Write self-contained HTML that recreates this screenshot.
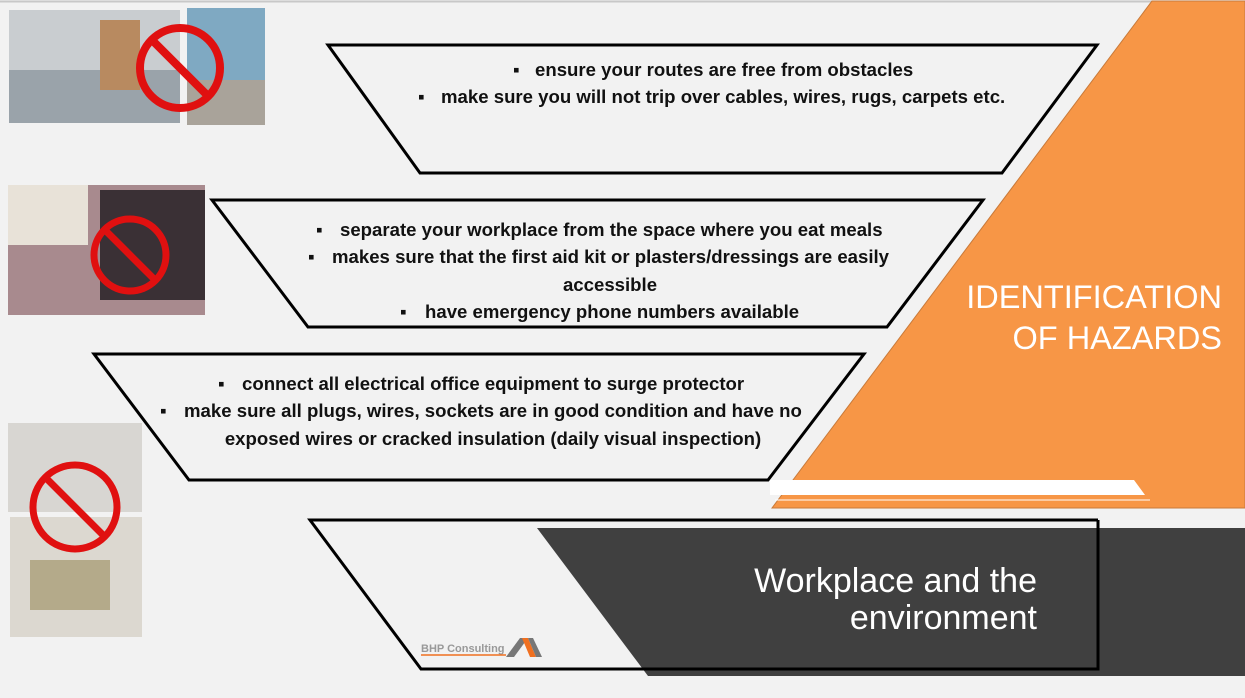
<!DOCTYPE html>
<html><head><meta charset="utf-8"><style>
html,body{margin:0;padding:0}
body{width:1245px;height:698px;overflow:hidden;background:#f2f2f2;font-family:"Liberation Sans",Arial,sans-serif}
svg{display:block}
.b{font-weight:bold;font-size:18.6px;fill:#111}
.h{font-size:32.5px;fill:#fff}
</style></head><body>
<svg width="1245" height="698" viewBox="0 0 1245 698" xmlns="http://www.w3.org/2000/svg">
<rect x="0" y="0" width="1245" height="698" fill="#f2f2f2"/>
<line x1="0" y1="1.5" x2="1245" y2="1.5" stroke="#c8c8c8" stroke-width="2"/>
<polygon points="1152,1 1245,1 1245,508 772,508" fill="#f79646" stroke="#c87a3a" stroke-width="1"/>
<polygon points="770,480 1134,480 1145,495 770,495" fill="#fff"/>
<line x1="775" y1="500" x2="1150" y2="500" stroke="#fff" stroke-width="1"/>
<text class="h" x="1222" y="308" text-anchor="end">IDENTIFICATION</text>
<text class="h" x="1222" y="349" text-anchor="end">OF HAZARDS</text>
<polygon points="537,528 1245,528 1245,676 648,676" fill="#404040"/>
<text x="1037" y="592" text-anchor="end" style="font-size:34px;fill:#fff">Workplace and the</text>
<text x="1037" y="629" text-anchor="end" style="font-size:34px;fill:#fff">environment</text>
<polygon points="328,45 1097,45 1002,173 420,173" fill="#f2f2f2" stroke="#000" stroke-width="3"/>
<polygon points="212,200 983,200 887,327 308,327" fill="#f2f2f2" stroke="#000" stroke-width="3"/>
<polygon points="94,354 864,354 768,480 189,480" fill="#f2f2f2" stroke="#000" stroke-width="3"/>
<polyline points="1098,520 310,520 421,669 1098,669 1098,520" fill="none" stroke="#000" stroke-width="3"/>
<text class="b" x="513" y="76">▪</text><text class="b" x="535" y="76">ensure your routes are free from obstacles</text>
<text class="b" x="418" y="103">▪</text><text class="b" x="441" y="103">make sure you will not trip over cables, wires, rugs, carpets etc.</text>
<text class="b" x="316" y="236">▪</text><text class="b" x="340" y="236">separate your workplace from the space where you eat meals</text>
<text class="b" x="308" y="263">▪</text><text class="b" x="332" y="263">makes sure that the first aid kit or plasters/dressings are easily</text>
<text class="b" x="610" y="291" text-anchor="middle">accessible</text>
<text class="b" x="400" y="318">▪</text><text class="b" x="425" y="318">have emergency phone numbers available</text>
<text class="b" x="218" y="390">▪</text><text class="b" x="242" y="390">connect all electrical office equipment to surge protector</text>
<text class="b" x="160" y="417">▪</text><text class="b" x="184" y="417">make sure all plugs, wires, sockets are in good condition and have no</text>
<text class="b" x="493" y="445" text-anchor="middle">exposed wires or cracked insulation (daily visual inspection)</text>
<text x="421" y="652" style="font-size:11px;font-weight:bold;fill:#999">BHP Consulting</text>
<line x1="421" y1="655" x2="506" y2="655" stroke="#f07020" stroke-width="1.5"/>
<polygon points="506,657 520,638 528,638 514,657" fill="#777"/>
<polygon points="522,638 528,638 536,657 530,657" fill="#f07020"/>
<polygon points="528,638 533,638 542,657 536,657" fill="#777"/>
<rect x="9" y="10" width="171" height="113" fill="#c9cdd0"/>
<rect x="9" y="70" width="171" height="53" fill="#9aa3aa"/>
<rect x="100" y="20" width="40" height="70" fill="#b88a60"/>
<rect x="187" y="8" width="78" height="117" fill="#7fa9c2"/>
<rect x="187" y="80" width="78" height="45" fill="#a9a39a"/>
<circle cx="180" cy="68" r="40" fill="none" stroke="#e01010" stroke-width="8"/>
<line x1="152" y1="40" x2="208" y2="96" stroke="#e01010" stroke-width="8"/>
<rect x="8" y="185" width="197" height="130" fill="#a88a8e"/>
<rect x="8" y="185" width="80" height="60" fill="#e8e2d8"/>
<rect x="100" y="190" width="105" height="110" fill="#3a3035"/>
<circle cx="130" cy="255" r="36" fill="none" stroke="#e01010" stroke-width="7"/>
<line x1="105" y1="230" x2="155" y2="280" stroke="#e01010" stroke-width="7"/>
<rect x="8" y="423" width="134" height="89" fill="#d8d6d2"/>
<rect x="10" y="517" width="132" height="120" fill="#dcd8d0"/>
<rect x="30" y="560" width="80" height="50" fill="#b4aa8a"/>
<circle cx="75" cy="507" r="42" fill="none" stroke="#e01010" stroke-width="7"/>
<line x1="45" y1="477" x2="105" y2="537" stroke="#e01010" stroke-width="7"/>
</svg>
</body></html>
